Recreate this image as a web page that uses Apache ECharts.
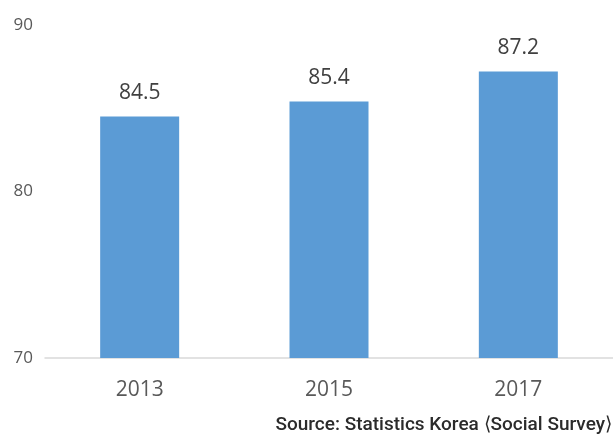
<!DOCTYPE html>
<html>
<head>
<meta charset="utf-8">
<script src="https://cdn.jsdelivr.net/npm/echarts@6/dist/echarts.min.js"></script>
<style>
  html, body { margin: 0; padding: 0; background: #fff; }
  #chart { width: 613px; height: 439px; }
</style>
</head>
<body>
<div id="chart"></div>
<script>
// values
var years = ['2013', '2015', '2017']
var values = [84.5, 85.4, 87.2]
var sourceText = 'Source: Statistics Korea \u27e8Social Survey\u27e9'

var chart = echarts.init(document.getElementById('chart'))
chart.setOption({
  animation: false,
  grid: { left: 45, top: 25, width: 573, bottom: 81, containLabel: false },
  xAxis: {
    type: 'category',
    data: years,
    axisLine: { lineStyle: { color: '#d9d9d9', width: 1.5 } },
    axisTick: { show: false },
    axisLabel: { color: '#595959', fontSize: 21, margin: 22, fontFamily: '"Open Sans", sans-serif' }
  },
  yAxis: {
    type: 'value',
    min: 70,
    max: 90,
    interval: 10,
    splitLine: { show: false },
    axisLine: { show: false },
    axisTick: { show: false },
    axisLabel: { color: '#595959', fontSize: 17, margin: 12, fontFamily: '"Open Sans", sans-serif' }
  },
  series: [{
    type: 'bar',
    data: values,
    barWidth: 79,
    itemStyle: { color: '#5b9bd5' },
    label: {
      show: true,
      position: 'top',
      distance: 13,
      color: '#404040',
      fontSize: 21,
      fontFamily: '"Open Sans", sans-serif',
      formatter: function (p) { return p.value.toFixed(1) }
    }
  }],
  graphic: [{
    type: 'text',
    right: 1,
    top: 416,
    style: {
      text: sourceText,
      fill: '#2b2b2b',
      fontSize: 19,
      fontWeight: 500,
      fontFamily: 'Roboto, sans-serif'
    }
  }]
})
</script>
</body>
</html>
